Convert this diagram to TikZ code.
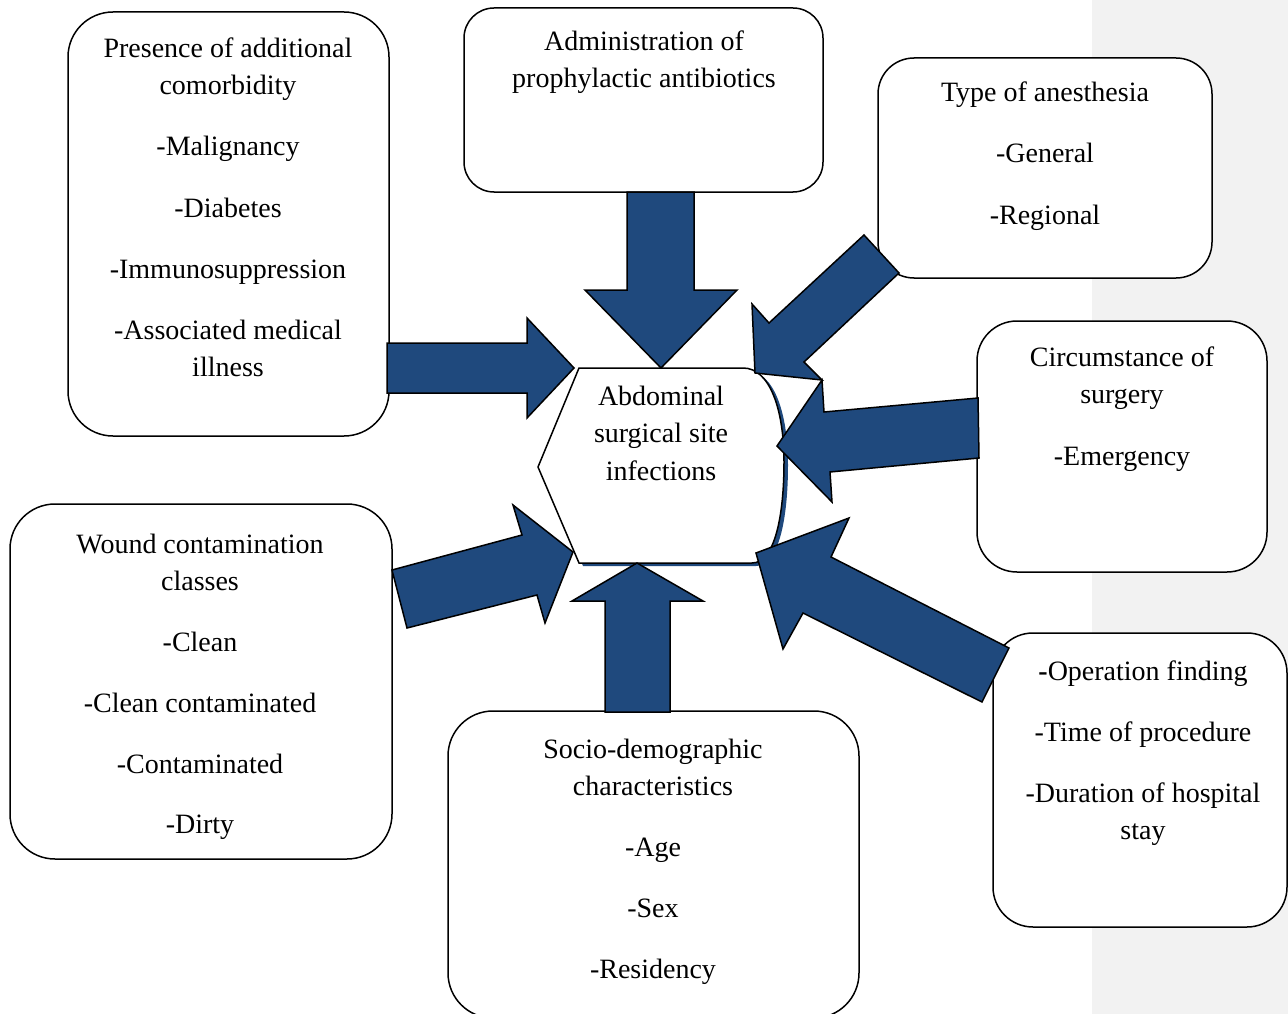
\documentclass[tikz,border=0pt]{standalone}
\usepackage{fontspec}
\setmainfont{Liberation Serif}
\definecolor{arrowblue}{RGB}{31,73,125}
\definecolor{bandgray}{RGB}{242,242,242}
\begin{document}
\begin{tikzpicture}[x=1pt,y=-1pt,
  box/.style={draw=black, line width=1.5pt, rounded corners=40pt, fill=white, inner sep=0pt},
  lbl/.style={anchor=base, inner sep=0pt, font=\fontsize{28}{37}\selectfont},
  barrow/.style={fill=arrowblue, draw=black, line width=1.5pt, line join=miter}]
\path[use as bounding box] (0,0) rectangle (1288,1014);
\fill[bandgray] (1092,0) rectangle (1288,1014);

% boxes
\node[box, minimum width=321pt, minimum height=424pt, rounded corners=45pt] (presence) at (228.5,224) {};
\node[box, minimum width=359pt, minimum height=184pt, rounded corners=30pt] (admin) at (643.5,100) {};
\node[box, minimum width=334pt, minimum height=220pt, rounded corners=36pt] (anesth) at (1045,168) {};
\node[box, minimum width=290pt, minimum height=251pt] (circ) at (1122,446.5) {};
\node[box, minimum width=294pt, minimum height=294pt] (oper) at (1140,780) {};
\node[box, minimum width=411pt, minimum height=307pt, rounded corners=45pt] (socio) at (653.5,864.5) {};
\node[box, minimum width=382pt, minimum height=355pt, rounded corners=45pt] (wound) at (201,681.5) {};

% central shape with shadow
\fill[arrowblue, shift={(4,3)}] (579,368) -- (743,368) .. controls (770,368) and (784,410) .. (784,462) .. controls (784,515) and (775,563) .. (752,563) -- (579,563) -- (538,467) -- cycle;
\draw[line width=1.5pt, fill=white] (579,368) -- (743,368) .. controls (770,368) and (784,410) .. (784,462) .. controls (784,515) and (775,563) .. (752,563) -- (579,563) -- (538,467) -- cycle;
\coordinate (center) at (661,466);

% block arrows
\draw[barrow] (387,343) -- (527,343) -- (527,318) -- (574,368) -- (527,418) -- (527,393) -- (387,393) -- cycle;
\draw[barrow] (627,192) -- (694,192) -- (694,290) -- (737,290) -- (661,368) -- (585,290) -- (627,290) -- cycle;
\draw[barrow] (864,235) -- (899,273) -- (804,362) -- (822,380) -- (755,373) -- (752,304) -- (769,323) -- cycle;
\draw[barrow] (978,398) -- (979,458) -- (830,472) -- (832,502) -- (777,446) -- (822,380) -- (824,412) -- cycle;
\draw[barrow] (756,553) -- (849,518) -- (831,557) -- (1009,648) -- (982,702) -- (803,613) -- (783,649) -- cycle;
\draw[barrow] (637,563) -- (703,601) -- (670,601) -- (670,712) -- (605,712) -- (605,601) -- (572,601) -- cycle;
\draw[barrow] (392,570) -- (522,535) -- (513,505) -- (573,552) -- (545,623) -- (537,595) -- (407,628) -- cycle;

% texts
\foreach \t/\y [count=\i] in {Presence of additional/58, comorbidity/95, -Malignancy/156, -Diabetes/217, -Immunosuppression/278, -Associated medical/339, illness/376}
  \node[lbl] (pr\i) at (228,\y) {\t};
\foreach \t/\y [count=\i] in {Administration of/51, prophylactic antibiotics/88}
  \node[lbl] (ad\i) at (644,\y) {\t};
\foreach \t/\y [count=\i] in {Type of anesthesia/102, -General/163, -Regional/224}
  \node[lbl] (an\i) at (1045,\y) {\t};
\foreach \t/\y [count=\i] in {Circumstance of/366, surgery/403, -Emergency/465}
  \node[lbl] (ci\i) at (1122,\y) {\t};
\foreach \t/\y [count=\i] in {{\textbf{-}Operation finding}/680, -Time of procedure/741, -Duration of hospital/802, stay/839}
  \node[lbl] (op\i) at (1143,\y) {\t};
\foreach \t/\y [count=\i] in {Socio-demographic/758, characteristics/795, -Age/856, -Sex/917, -Residency/978}
  \node[lbl] (so\i) at (653,\y) {\t};
\foreach \t/\y [count=\i] in {Wound contamination/553, classes/590, -Clean/651, -Clean contaminated/712, -Contaminated/773, -Dirty/833}
  \node[lbl] (wo\i) at (200,\y) {\t};
\foreach \t/\y [count=\i] in {Abdominal/405, surgical site/442, infections/480}
  \node[lbl] (ce\i) at (661,\y) {\t};
\end{tikzpicture}
\end{document}
